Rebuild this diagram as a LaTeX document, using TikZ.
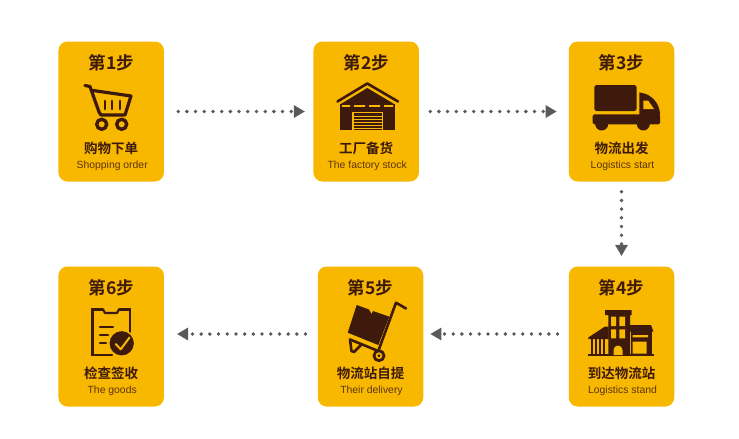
\documentclass[tikz,border=0pt]{standalone}
\usepackage{fontspec}
\setmainfont{Liberation Sans}
\newfontfamily\cjk{Noto Sans CJK SC}[BoldFont={Noto Sans CJK SC Bold}]
\usetikzlibrary{arrows.meta}
\definecolor{cardyellow}{HTML}{F8B800}
\definecolor{icondark}{HTML}{3E1A0C}
\definecolor{engbrown}{HTML}{5C3410}
\definecolor{dotgray}{HTML}{5A5A5A}
\tikzset{
    stepcard/.style={fill=cardyellow,rounded corners=9pt,minimum width=105.5pt,minimum height=140pt,inner sep=0pt},
    steptitle/.style={font=\cjk\bfseries\fontsize{17.5}{19}\selectfont,text=icondark,inner sep=0pt},
    stepname/.style={font=\cjk\bfseries\fontsize{13.5}{15}\selectfont,text=icondark,inner sep=0pt},
    stepeng/.style={font=\fontsize{10.4}{12}\selectfont,text=engbrown,inner sep=0pt},
    flow/.style={draw=dotgray,line width=3.8pt,line cap=round,dash pattern=on 0pt off 8.7pt,
        -{Triangle[length=11pt,width=13pt,line width=0pt,fill=dotgray]}},
    iconline/.style={draw=icondark,line width=3.2pt,line join=round,line cap=round},
    iconfill/.style={fill=icondark},
    iconhole/.style={fill=cardyellow}
}
\begin{document}
\begin{tikzpicture}[x=1pt,y=-1pt]
    \useasboundingbox (0,0) rectangle (739,439);
    % cards
    \foreach \num/\x/\y/\cn/\en in {1/111.2/111.5/购物下单/Shopping order,
        2/366.2/111.5/工厂备货/The factory stock,
        3/621.5/111.5/物流出发/Logistics start,
        4/621.5/336.5/到达物流站/Logistics stand,
        5/370.5/336.5/物流站自提/Their delivery,
        6/111.2/336.5/检查签收/The goods} {
        \node[stepcard] (card\num) at (\x,\y) {};
        \node[steptitle] (title\num) at (\x,\y-49) {第\num 步};
        \node[stepname] (name\num) at (\x,\y+37) {\cn};
        \node[stepeng] (eng\num) at (\x+1,\y+54) {\en};
    }
    % connectors
    \draw[flow,shorten <=14pt,shorten >=8.5pt] (card1.east) -- (card2.west);
    \draw[flow,shorten <=11pt,shorten >=12pt] (card2.east) -- (card3.west);
    \draw[flow,shorten <=10pt,shorten >=10.5pt] (card3.south) -- (card4.north);
    \draw[flow,shorten <=11pt,shorten >=7pt] ([yshift=2.5pt]card4.west) -- ([yshift=2.5pt]card5.east);
    \draw[flow,shorten <=12pt,shorten >=13pt] ([yshift=2.5pt]card5.west) -- ([yshift=2.5pt]card6.east);
    % cart
    \draw[iconline] (85,85.5) -- (90,86.5) -- (99,112) -- (101,115) -- (125,115) -- (131,96) -- (93,90.5);
    \draw[iconline,line width=2.8pt] (105,101) -- (105,109) (112,101) -- (112,109) (120,101) -- (120,109);
    \draw[iconline,line width=3.4pt] (101.7,124.3) circle[radius=5pt] (121.7,124.3) circle[radius=5pt];
    % warehouse
    \draw[iconline,line width=2.6pt] (337.5,101.5) -- (367.3,83.5) -- (398,101.5);
    \fill[iconfill] (340,104.5) -- (367.3,88) -- (395,104.5) -- cycle;
    \fill[iconfill] (340,104) rectangle (395,129.5);
    \fill[iconhole] (342,105) rectangle (350,106.8) (354,105) rectangle (365,106.8) (369,105) rectangle (380,106.8) (384,105) rectangle (393,106.8);
    \fill[iconhole] (352.3,111.5) rectangle (383.3,129.5);
    \fill[iconfill] (353.8,113) rectangle (381.8,129.5);
    \foreach \yy in {116,119,122,125,128} {
        \draw[cardyellow,line width=0.5pt] (353.8,\yy) -- (381.8,\yy);
    }
    % truck
    \fill[iconfill,rounded corners=2.5pt] (594.3,85) rectangle (636.7,111);
    \fill[iconfill] (639.3,92.3) -- (646,94) .. controls (655,98) and (660,106) .. (660,115) -- (639.3,115) -- cycle;
    \fill[iconhole] (643.3,100.7) -- (648.3,100.7) -- (654,109) -- (643.3,109) -- cycle;
    \fill[iconfill,rounded corners=1.5pt] (592.7,114.3) rectangle (660,124.3);
    \fill[iconfill] (601.7,124) circle[radius=6.5pt] (643.3,124) circle[radius=6.5pt];
    % building
    \fill[iconfill] (605,310) rectangle (631.7,315) (608.3,314) rectangle (630,355);
    \fill[iconfill] (630,325) -- (651,325) -- (653.5,331.7) -- (630,331.7) -- cycle;
    \fill[iconfill] (631,331) rectangle (651.7,355);
    \fill[iconfill] (588.3,337.5) -- (605,326.5) -- (608.5,326.5) -- (608.5,339) -- (588.3,339) -- cycle;
    \foreach \xx in {592,596,600,604} {
        \fill[iconfill] (\xx-1.2,338) rectangle (\xx+1.2,355);
    }
    \fill[iconfill] (588.3,353.8) rectangle (653.5,356);
    \fill[iconhole] (611,316.7) rectangle (616,326) (619.3,316.7) rectangle (625,326)
        (611,329.3) rectangle (616,338.3) (619.3,329.3) rectangle (625,338.3);
    \fill[iconhole] (613.5,355) -- (613.5,350) arc[start angle=180,end angle=0,radius=4.5pt] -- (622.5,355) -- cycle;
    \fill[iconhole] (632.7,335) rectangle (648,337.3) (632.7,341.7) rectangle (646.7,353.5);
    % trolley
    \fill[iconfill] (356.7,305) -- (369,309.5) -- (371.5,314) -- (373,311) -- (389.3,316.7) -- (378.3,345) -- (347.7,332.7) -- cycle;
    \draw[iconline,line width=2.6pt] (406,308.5) -- (396,302.7) -- (378.3,351);
    \draw[iconline,line width=2.6pt] (350,339.5) -- (377,350.5);
    \draw[iconline,line width=2.6pt] (350,339.5) -- (351.5,351) -- (354,352) -- (361,345);
    \draw[iconline,line width=2.8pt] (379,355.7) circle[radius=5pt];
    \fill[iconfill] (379,355.7) circle[radius=1.6pt];
    % clipboard
    \draw[iconline,line width=2.2pt,line join=miter] (103,309.5) -- (92.5,309.5) -- (92.5,355) -- (112,355);
    \draw[iconline,line width=2.2pt,line join=miter] (119,309.5) -- (130,309.5) -- (130,332);
    \draw[iconline,line width=2.2pt] (103,309.5) -- (105,313) -- (117,313) -- (119,309.5);
    \draw[iconline,line width=2.2pt] (100,326.7) -- (113,326.7) (100,335) -- (108,335) (100,343.3) -- (106,343.3);
    \fill[iconfill,draw=cardyellow,line width=1.5pt] (121.7,343.3) circle[radius=13pt];
    \draw[cardyellow,line width=2pt,line cap=round,line join=round] (115.7,344) -- (120.7,349.3) -- (129.5,337.5);
\end{tikzpicture}
\end{document}
